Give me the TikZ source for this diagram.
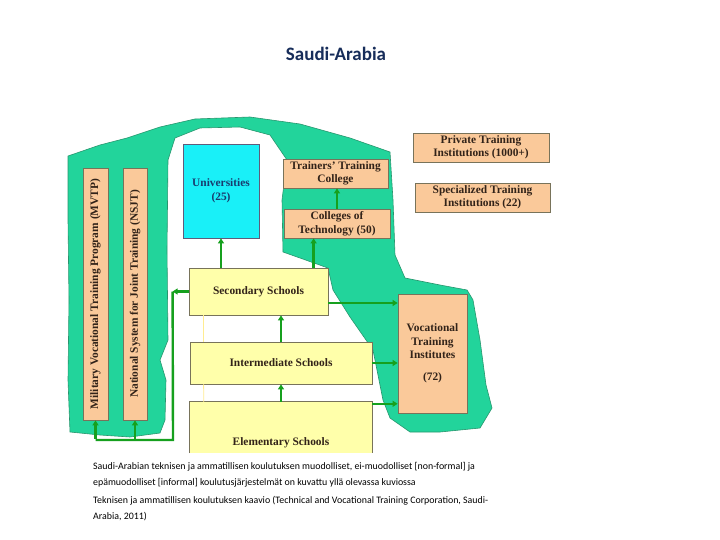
\documentclass[tikz,border=0pt]{standalone}
\usepackage{fontspec}
\setmainfont{Liberation Serif}
\newfontfamily\calib{Carlito}
\usetikzlibrary{arrows.meta,calc}
\definecolor{blob}{RGB}{34,212,155}
\definecolor{blobedge}{RGB}{40,150,110}
\definecolor{peach}{RGB}{250,201,154}
\definecolor{pale}{RGB}{255,255,170}
\definecolor{cyanbox}{RGB}{25,240,248}
\definecolor{boxedge}{RGB}{120,115,90}
\definecolor{arrgreen}{RGB}{22,160,30}
\definecolor{boxtext}{RGB}{50,35,25}
\definecolor{unitext}{RGB}{25,60,110}
\definecolor{titlec}{RGB}{23,45,90}
\tikzset{
  bfnt/.style={font=\bfseries\fontsize{11.4}{13.5}\selectfont},
  box/.style={draw=boxedge, line width=0.8pt, bfnt, text=boxtext, align=center, inner sep=0pt},
  orange/.style={box, fill=peach},
  yellowbox/.style={box, fill=pale},
  arr/.style={draw=arrgreen, line width=2.4pt, -{Triangle[length=5pt,width=6pt]}},
  gline/.style={draw=arrgreen, line width=2.4pt},
  capt/.style={font=\calib\fontsize{9.9}{16}\selectfont, anchor=north west, align=left, text=black, inner sep=0pt}
}
\begin{document}
\begin{tikzpicture}[x=1pt,y=-1pt]
\useasboundingbox (0,0) rectangle (720,540);
\fill[white] (0,0) rectangle (720,540);
% title
\node[font=\calib\bfseries\fontsize{19}{22}\selectfont, text=titlec] (title) at (336,54) {Saudi-Arabia};
% green blob
\filldraw[fill=blob, draw=blobedge, line width=0.6pt]
 (70,432) -- (68,380) -- (69,300) -- (68,220) -- (68,156) -- (100,145) -- (127,138) -- (160,127)
 -- (195,119) -- (250,117) -- (300,124) -- (350,138) -- (390,152) -- (393,200) -- (395,255)
 -- (405,278) -- (440,285) -- (467,290) -- (473,300) -- (480,340) -- (486,385) -- (492,408)
 -- (480,428) -- (440,432) -- (410,432) -- (390,418) -- (383,400) -- (373,350) -- (350,317)
 -- (333,290) -- (328,268) -- (300,258) -- (283,252) -- (282,200) -- (287,160) -- (270,135)
 -- (240,127) -- (200,128) -- (175,138) -- (168,160) -- (167,250) -- (168,340) -- (160,360)
 -- (166,380) -- (165,420) -- (160,433) -- (130,437) -- (100,435) -- cycle;
% boxes
\node[orange, minimum width=25, minimum height=252] (mvtp) at (95.5,294) {};
\node[rotate=90, bfnt, text=boxtext] at (mvtp.center) {Military Vocational Training Program (MVTP)};
\node[orange, minimum width=24, minimum height=252] (nsjt) at (135,294) {};
\node[rotate=90, bfnt, text=boxtext] at (nsjt.center) {National System for Joint Training (NSJT)};
\node[box, fill=cyanbox, text=unitext, minimum width=76, minimum height=94, draw=boxedge!80!blue] (univ) at (221,191) {Universities\\(25)};
\node[orange, minimum width=105, minimum height=29] (ttc) at (335.5,173.5) {Trainers' Training\\College};
\node[orange, minimum width=106, minimum height=29] (cot) at (337,223.5) {Colleges of\\Technology (50)};
\node[orange, minimum width=136, minimum height=29] (pti) at (481,147.5) {Private Training\\Institutions (1000+)};
\node[orange, minimum width=135, minimum height=29] (sti) at (482.5,197.5) {Specialized Training\\Institutions (22)};
\node[yellowbox, minimum width=139, minimum height=47] (sec) at (258.5,291.5) {Secondary Schools};
\node[yellowbox, minimum width=182, minimum height=42] (inter) at (281,363) {Intermediate Schools};
\node[fill=pale, inner sep=0pt, minimum width=182, minimum height=51] (elem) at (281,427.5) {};
\draw[boxedge, line width=0.8pt] (elem.south west) -- (elem.north west) -- (elem.north east) -- (elem.south east);
\node[bfnt, text=boxtext] (elemt) at (281,443) {Elementary Schools};
\node[orange, minimum width=69, minimum height=119] (voc) at (432.5,353.5) {Vocational\\Training\\Institutes\\[8pt](72)};
% faint lines
\draw[pale!85!orange, line width=0.8pt] ([xshift=15pt]sec.south west) -- ([xshift=14pt]inter.north west);
\draw[pale!85!orange, line width=0.8pt] ([xshift=14pt]inter.south west) -- ([xshift=14pt]elem.north west);
% arrows
\coordinate (c1) at ([xshift=30pt]cot.south west);
\draw[arr] (sec.north -| univ.south) -- (univ.south);
\draw[arr] (sec.north -| c1) -- (c1);
\draw[arr] (cot.north) -- (cot.north |- ttc.south);
\draw[arr] ([yshift=-11.5pt]sec.east) -- ([yshift=-11.5pt]sec.east -| voc.west);
\draw[arr] (inter.east) -- (inter.east -| voc.west);
\draw[arr] ([yshift=-2pt]elem.north east) -- ([yshift=-2pt]elem.north east -| voc.west);
\draw[arr] (inter.north) -- (sec.south -| inter.north);
\draw[arr] (elem.north) -- (inter.south);
\draw[arr] (sec.west) -- ++(-16,0) coordinate (k1);
\coordinate (k2) at (173,440);
\draw[gline, line join=miter] (k1) -- (k2) -- (k2 -| mvtp.south);
\draw[arr] ([yshift=1.2pt]k2 -| mvtp.south) -- (mvtp.south);
\draw[arr] (k2 -| nsjt.south) -- (nsjt.south);
% caption
\node[capt] (cap1) at (93,462.5) {Saudi-Arabian teknisen ja ammatillisen koulutuksen muodolliset, ei-muodolliset [non-formal] ja\\epämuodolliset [informal] koulutusjärjestelmät on kuvattu yllä olevassa kuviossa};
\node[capt] (cap2) at (93,496.5) {Teknisen ja ammatillisen koulutuksen kaavio (Technical and Vocational Training Corporation, Saudi-\\Arabia, 2011)};
\end{tikzpicture}
\end{document}
